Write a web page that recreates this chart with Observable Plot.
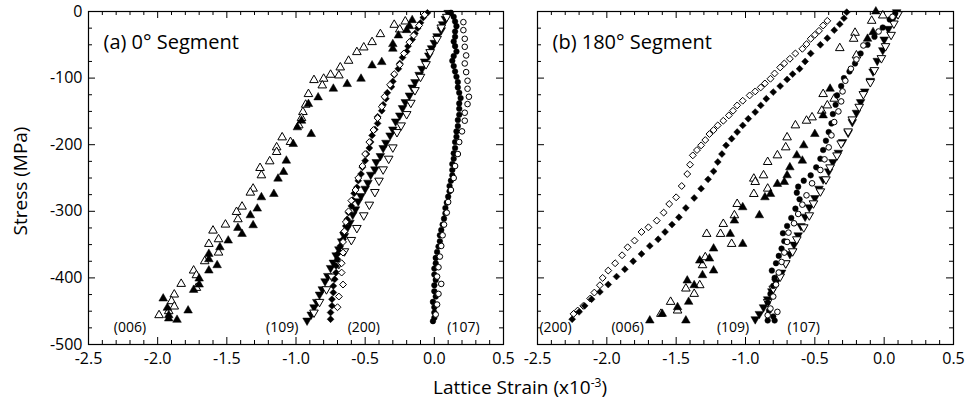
<!DOCTYPE html>
<html><head><meta charset="utf-8">
<script src="https://cdn.jsdelivr.net/npm/d3@7"></script>
<script src="https://cdn.jsdelivr.net/npm/@observablehq/plot@0.6"></script>
<style>
body{margin:0;background:#fff;font-family:"Open Sans",sans-serif;color:#000}
#wrap{position:relative;width:966px;height:402px;overflow:hidden}
#wrap svg{position:absolute;top:0;overflow:visible}
.lab{position:absolute;font-family:"Open Sans",sans-serif;white-space:nowrap;text-align:center}
</style>
</head><body><div id="wrap"></div>
<script>
// ---- tick values ----
const xMajorTicks = [-2.5, -2.0, -1.5, -1.0, -0.5, 0.0, 0.5];
const xMinorTicks = [-2.4,-2.3,-2.2,-2.1,-1.9,-1.8,-1.7,-1.6,-1.4,-1.3,-1.2,-1.1,-0.9,-0.8,-0.7,-0.6,-0.4,-0.3,-0.2,-0.1,0.1,0.2,0.3,0.4];
const yMajorTicks = [0, -100, -200, -300, -400, -500];
const yMinorTicks = [-25,-50,-75,-125,-150,-175,-225,-250,-275,-325,-350,-375,-425,-450,-475];

// ---- series labels ----
const labelsA = [["(006)", -2.20, -474], ["(109)", -1.10, -474], ["(200)", -0.51, -474], ["(107)", 0.21, -474]];
const labelsB = [["(200)", -2.37, -474], ["(006)", -1.85, -474], ["(109)", -1.09, -474], ["(107)", -0.58, -474]];

// ---- (a) 0° segment: [strain x1e-3, stress MPa] ----
const a006Open = [[-0.21,-15],[-0.29,-20],[-0.25,-27],[-0.39,-34],[-0.45,-46],[-0.51,-54],[-0.56,-61],[-0.62,-74],[-0.68,-84],[-0.69,-96],[-0.75,-95],[-0.80,-101],[-0.81,-111],[-0.87,-103],[-0.91,-124],[-0.93,-140],[-0.95,-151],[-0.98,-171],[-0.96,-160],[-1.04,-196],[-1.10,-189],[-1.14,-204],[-1.14,-211],[-1.19,-225],[-1.25,-246],[-1.26,-235],[-1.31,-266],[-1.33,-272],[-1.39,-293],[-1.43,-301],[-1.42,-312],[-1.51,-320],[-1.56,-342],[-1.60,-329],[-1.63,-349],[-1.56,-362],[-1.66,-375],[-1.74,-389],[-1.72,-396],[-1.83,-409],[-1.72,-415],[-1.88,-425],[-1.90,-435],[-1.88,-443],[-1.92,-450],[-1.99,-456]];
const a006Filled = [[-0.16,-13],[-0.18,-22],[-0.20,-28],[-0.26,-36],[-0.30,-49],[-0.30,-56],[-0.38,-76],[-0.45,-81],[-0.53,-101],[-0.63,-109],[-0.73,-116],[-0.84,-129],[-0.91,-139],[-0.96,-164],[-0.99,-174],[-0.89,-184],[-1.02,-199],[-1.07,-224],[-1.09,-241],[-1.13,-251],[-1.16,-274],[-1.25,-279],[-1.28,-296],[-1.33,-306],[-1.31,-321],[-1.39,-334],[-1.42,-325],[-1.49,-344],[-1.55,-354],[-1.57,-381],[-1.63,-364],[-1.63,-372],[-1.63,-389],[-1.70,-401],[-1.74,-418],[-1.70,-410],[-1.78,-449],[-1.86,-463],[-1.92,-456],[-1.96,-431],[-1.92,-461],[-1.93,-445]];
const a109Filled = [[0.10,-2],[0.08,-11],[0.06,-19],[0.05,-28],[0.02,-37],[0.00,-47],[-0.02,-55],[-0.04,-66],[-0.07,-75],[-0.09,-86],[-0.11,-95],[-0.14,-106],[-0.16,-114],[-0.18,-126],[-0.21,-136],[-0.23,-145],[-0.25,-156],[-0.28,-165],[-0.30,-177],[-0.32,-186],[-0.35,-197],[-0.37,-205],[-0.39,-217],[-0.42,-226],[-0.43,-237],[-0.46,-245],[-0.48,-257],[-0.50,-266],[-0.53,-277],[-0.55,-285],[-0.57,-297],[-0.59,-305],[-0.61,-317],[-0.63,-325],[-0.65,-337],[-0.67,-345],[-0.69,-357],[-0.71,-366],[-0.73,-377],[-0.75,-385],[-0.77,-397],[-0.79,-405],[-0.81,-417],[-0.83,-425],[-0.85,-436],[-0.87,-444],[-0.89,-455],[-0.92,-464]];
const a109Open = [[0.09,-8],[0.05,-24],[0.02,-41],[-0.03,-61],[-0.06,-79],[-0.10,-98],[-0.14,-118],[-0.17,-137],[-0.20,-154],[-0.24,-171],[-0.27,-181],[-0.30,-204],[-0.33,-221],[-0.37,-237],[-0.40,-254],[-0.43,-271],[-0.47,-290],[-0.51,-306],[-0.56,-325],[-0.60,-343],[-0.65,-360],[-0.69,-379],[-0.74,-398],[-0.78,-417],[-0.83,-436],[-0.87,-452]];
const a200Filled = [[-0.05,-2],[-0.08,-9],[-0.10,-17],[-0.12,-25],[-0.14,-33],[-0.16,-42],[-0.19,-52],[-0.20,-60],[-0.23,-69],[-0.25,-78],[-0.26,-86],[-0.29,-95],[-0.30,-105],[-0.31,-113],[-0.34,-122],[-0.35,-131],[-0.37,-140],[-0.38,-149],[-0.41,-158],[-0.41,-168],[-0.43,-177],[-0.45,-186],[-0.46,-196],[-0.47,-205],[-0.49,-214],[-0.50,-224],[-0.52,-234],[-0.53,-244],[-0.55,-254],[-0.56,-264],[-0.58,-273],[-0.59,-283],[-0.60,-292],[-0.62,-302],[-0.63,-312],[-0.64,-322],[-0.66,-332],[-0.66,-342],[-0.68,-352],[-0.69,-362],[-0.70,-372],[-0.71,-382],[-0.71,-392],[-0.72,-402],[-0.73,-412],[-0.73,-422],[-0.74,-432],[-0.74,-442],[-0.75,-452],[-0.75,-462]];
const a200Open = [[-0.07,-5],[-0.11,-21],[-0.15,-36],[-0.18,-46],[-0.22,-63],[-0.25,-80],[-0.29,-94],[-0.32,-110],[-0.36,-128],[-0.38,-143],[-0.41,-160],[-0.44,-178],[-0.47,-196],[-0.50,-214],[-0.52,-232],[-0.55,-250],[-0.57,-268],[-0.60,-284],[-0.62,-300],[-0.64,-316],[-0.65,-330],[-0.66,-346],[-0.66,-362],[-0.67,-378],[-0.67,-392],[-0.66,-410],[-0.69,-428],[-0.70,-444]];
const a107Filled = [[0.12,-2],[0.14,-8],[0.15,-15],[0.16,-22],[0.15,-30],[0.15,-38],[0.14,-45],[0.15,-52],[0.16,-60],[0.14,-67],[0.13,-74],[0.14,-82],[0.15,-90],[0.16,-98],[0.17,-106],[0.17,-114],[0.18,-122],[0.19,-130],[0.18,-138],[0.18,-146],[0.18,-155],[0.17,-163],[0.17,-172],[0.16,-180],[0.16,-188],[0.15,-196],[0.15,-205],[0.14,-213],[0.14,-221],[0.13,-229],[0.13,-238],[0.13,-246],[0.12,-254],[0.11,-262],[0.11,-270],[0.10,-278],[0.09,-287],[0.08,-295],[0.08,-303],[0.07,-311],[0.06,-320],[0.05,-328],[0.04,-336],[0.04,-345],[0.03,-353],[0.02,-361],[0.01,-370],[0.01,-378],[0.00,-386],[0.00,-395],[0.01,-403],[0.00,-411],[0.00,-420],[0.01,-428],[-0.01,-436],[0.00,-444],[0.00,-452],[0.00,-460],[-0.01,-465]];
const a107Open = [[0.21,-16],[0.21,-28],[0.22,-41],[0.22,-53],[0.23,-66],[0.22,-78],[0.23,-91],[0.24,-104],[0.24,-116],[0.25,-128],[0.24,-139],[0.22,-152],[0.22,-164],[0.20,-180],[0.18,-196],[0.17,-214],[0.15,-232],[0.14,-250],[0.12,-268],[0.10,-286],[0.09,-302],[0.07,-320],[0.06,-336],[0.05,-352],[0.04,-368],[0.03,-384],[0.02,-398],[0.05,-409],[0.03,-424],[0.02,-440],[0.01,-455]];

// ---- (b) 180° segment ----
const b200Open = [[-0.41,-14],[-0.44,-21],[-0.47,-29],[-0.50,-35],[-0.53,-41],[-0.56,-49],[-0.59,-56],[-0.64,-63],[-0.68,-71],[-0.72,-78],[-0.75,-84],[-0.79,-93],[-0.82,-101],[-0.86,-108],[-0.89,-114],[-0.93,-120],[-0.97,-126],[-1.02,-134],[-1.06,-141],[-1.09,-149],[-1.12,-156],[-1.16,-164],[-1.20,-171],[-1.23,-178],[-1.26,-184],[-1.29,-193],[-1.32,-201],[-1.35,-208],[-1.38,-216],[-1.40,-230],[-1.42,-244],[-1.46,-262],[-1.50,-279],[-1.55,-289],[-1.59,-302],[-1.64,-314],[-1.70,-324],[-1.75,-331],[-1.80,-344],[-1.85,-354],[-1.89,-366],[-1.94,-378],[-1.99,-389],[-2.03,-400],[-2.05,-411],[-2.09,-422],[-2.12,-431],[-2.17,-442],[-2.21,-449],[-2.24,-454]];
const b200Filled = [[-0.27,-1],[-0.29,-10],[-0.32,-19],[-0.36,-28],[-0.41,-40],[-0.46,-50],[-0.53,-63],[-0.57,-75],[-0.61,-86],[-0.66,-94],[-0.70,-102],[-0.75,-112],[-0.80,-121],[-0.85,-131],[-0.89,-141],[-0.93,-151],[-0.98,-161],[-1.02,-171],[-1.06,-181],[-1.10,-191],[-1.14,-201],[-1.17,-214],[-1.20,-226],[-1.23,-240],[-1.27,-252],[-1.32,-266],[-1.37,-280],[-1.43,-295],[-1.48,-309],[-1.53,-320],[-1.58,-331],[-1.63,-342],[-1.69,-352],[-1.75,-364],[-1.81,-375],[-1.87,-387],[-1.93,-398],[-1.99,-410],[-2.05,-421],[-2.11,-432],[-2.16,-442],[-2.20,-451],[-2.25,-462]];
const b006Open = [[-0.01,-6],[-0.09,-14],[-0.21,-32],[-0.22,-41],[-0.32,-55],[-0.20,-66],[-0.44,-124],[-0.36,-131],[-0.41,-141],[-0.45,-149],[-0.52,-159],[-0.56,-164],[-0.64,-171],[-0.70,-189],[-0.71,-204],[-0.77,-216],[-0.84,-226],[-0.87,-246],[-0.94,-251],[-0.93,-256],[-0.84,-266],[-0.94,-274],[-1.06,-289],[-1.08,-306],[-1.16,-319],[-1.28,-334],[-1.18,-334],[-1.10,-349],[-1.29,-369],[-1.31,-381],[-1.33,-411],[-1.43,-416],[-1.37,-424],[-1.54,-436],[-1.49,-449],[-1.61,-454]];
const b006Filled = [[-0.06,0],[-0.08,-31],[-0.12,-41],[-0.39,-116],[-0.44,-156],[-0.50,-184],[-0.58,-201],[-0.59,-224],[-0.63,-216],[-0.68,-234],[-0.70,-246],[-0.72,-256],[-0.77,-259],[-0.82,-274],[-0.86,-279],[-0.90,-306],[-1.02,-294],[-1.08,-314],[-1.11,-334],[-1.02,-349],[-1.23,-356],[-1.26,-371],[-1.33,-374],[-1.23,-389],[-1.31,-396],[-1.42,-404],[-1.37,-411],[-1.41,-436],[-1.49,-444],[-1.43,-464],[-1.60,-454],[-1.69,-464]];
const b109Filled = [[0.09,-1],[0.06,-12],[0.03,-26],[0.00,-42],[-0.01,-58],[-0.05,-74],[-0.08,-90],[-0.10,-104],[-0.14,-120],[-0.17,-136],[-0.20,-152],[-0.23,-166],[-0.26,-182],[-0.30,-196],[-0.33,-212],[-0.37,-226],[-0.40,-240],[-0.44,-252],[-0.47,-266],[-0.50,-280],[-0.54,-294],[-0.57,-308],[-0.60,-322],[-0.62,-336],[-0.65,-350],[-0.68,-364],[-0.71,-378],[-0.74,-392],[-0.78,-406],[-0.81,-420],[-0.84,-432],[-0.87,-444],[-0.90,-454],[-0.93,-462]];
const b109Open = [[0.10,-4],[0.07,-18],[0.05,-35],[0.01,-52],[-0.02,-70],[-0.07,-88],[-0.10,-106],[-0.15,-124],[-0.18,-143],[-0.23,-162],[-0.26,-180],[-0.31,-198],[-0.34,-216],[-0.39,-234],[-0.42,-252],[-0.46,-270],[-0.51,-288],[-0.54,-306],[-0.58,-324],[-0.63,-342],[-0.66,-360],[-0.71,-378],[-0.75,-398],[-0.80,-416],[-0.84,-436]];
const b107Filled = [[0.08,-3],[0.04,-12],[-0.01,-24],[-0.07,-38],[-0.12,-50],[-0.17,-63],[-0.21,-78],[-0.25,-90],[-0.29,-100],[-0.31,-112],[-0.34,-126],[-0.35,-140],[-0.37,-154],[-0.38,-168],[-0.40,-181],[-0.42,-194],[-0.44,-208],[-0.46,-221],[-0.49,-234],[-0.53,-246],[-0.58,-254],[-0.62,-263],[-0.63,-272],[-0.61,-282],[-0.64,-296],[-0.67,-310],[-0.70,-322],[-0.73,-333],[-0.72,-345],[-0.74,-356],[-0.76,-367],[-0.78,-378],[-0.81,-389],[-0.79,-400],[-0.80,-412],[-0.82,-424],[-0.84,-437],[-0.83,-449],[-0.80,-458],[-0.84,-464],[-0.79,-464]];
const b107Open = [[0.06,-8],[-0.04,-30],[-0.15,-51],[-0.20,-72],[-0.24,-86],[-0.28,-104],[-0.30,-120],[-0.31,-135],[-0.33,-150],[-0.36,-166],[-0.38,-186],[-0.40,-204],[-0.43,-222],[-0.46,-238],[-0.52,-258],[-0.56,-276],[-0.59,-290],[-0.62,-304],[-0.65,-318],[-0.69,-332],[-0.70,-346],[-0.72,-362],[-0.74,-376],[-0.76,-392],[-0.78,-410],[-0.80,-428],[-0.82,-446],[-0.77,-451],[-0.84,-456]];

// ---- rendering ----
const FONT = "'Open Sans', sans-serif";
const sqrt3 = Math.sqrt(3);
const triDown = {draw(ctx, size) {
  const y = -Math.sqrt(size / (sqrt3 * 3));
  ctx.moveTo(0, -y * 2);
  ctx.lineTo(-sqrt3 * y, y);
  ctx.lineTo(sqrt3 * y, y);
  ctx.closePath();
}};
const pts = arr => arr.map(([x, y]) => ({x, y}));
function filled(arr, symbol, r) {
  return Plot.dot(pts(arr), {x: "x", y: "y", symbol, r, fill: "black", stroke: "black", strokeWidth: 0.5});
}
function open(arr, symbol, r) {
  return Plot.dot(pts(arr), {x: "x", y: "y", symbol, r, fill: "white", stroke: "black", strokeWidth: 1});
}
const H = 372, MT = 11, MB = 28, IH = H - MT - MB;
const RT = 3.2, RD = 3.1, RC = 2.8;

function panel({width, marginLeft, marginRight, series, labels, title, yLabels}) {
  const IW = width - marginLeft - marginRight;
  const tk = (vals, opt) => Plot.ruleX(vals, {x: d => d, stroke: "black", strokeWidth: 1, ...opt});
  const tky = (vals, opt) => Plot.ruleY(vals, {y: d => d, stroke: "black", strokeWidth: 1, ...opt});
  const marks = [
    // inward ticks on all four sides
    tk(xMajorTicks, {insetTop: IH - 7}), tk(xMinorTicks, {insetTop: IH - 4}),
    tk(xMajorTicks, {insetBottom: IH - 7}), tk(xMinorTicks, {insetBottom: IH - 4}),
    tky(yMajorTicks, {insetRight: IW - 7}), tky(yMinorTicks, {insetRight: IW - 4}),
    tky(yMajorTicks, {insetLeft: IW - 7}), tky(yMinorTicks, {insetLeft: IW - 4}),
    Plot.axisX(xMajorTicks, {tickSize: 0, tickPadding: 8, tickFormat: d => d.toFixed(1), fontSize: 16, label: null}),
    ...series,
    Plot.text(labels.map(([t, x, y]) => ({t, x, y})), {x: "x", y: "y", text: "t", fontSize: 14, fill: "black", lineAnchor: "middle"}),
    Plot.text([title], {frameAnchor: "top-left", dx: 15, dy: 31, lineAnchor: "middle", textAnchor: "start", fontSize: 20, fill: "black"}),
    Plot.frame({stroke: "black", strokeWidth: 1.2})
  ];
  if (yLabels) marks.push(Plot.axisY(yMajorTicks, {tickSize: 0, tickPadding: 6, tickFormat: d => String(d), fontSize: 16, label: null}));
  return Plot.plot({
    width, height: H, marginLeft, marginRight, marginTop: MT, marginBottom: MB,
    x: {domain: [-2.5, 0.5], axis: null},
    y: {domain: [-500, 0], axis: null},
    style: {fontFamily: FONT, fontSize: "16px", color: "black", background: "transparent", overflow: "visible"},
    marks
  });
}

const wrap = document.getElementById("wrap");
const pa = panel({
  width: 520, marginLeft: 88, marginRight: 17, yLabels: true,
  title: "(a) 0° Segment", labels: labelsA,
  series: [
    open(a006Open, "triangle", RT), filled(a006Filled, "triangle", RT),
    filled(a109Filled, triDown, RT), open(a109Open, triDown, RT),
    filled(a200Filled, "diamond2", RD), open(a200Open, "diamond2", RD),
    filled(a107Filled, "circle", RC), open(a107Open, "circle", RC)
  ]
});
pa.style.left = "0px";
wrap.appendChild(pa);

const pb = panel({
  width: 439, marginLeft: 10, marginRight: 13, yLabels: false,
  title: "(b) 180° Segment", labels: labelsB,
  series: [
    open(b200Open, "diamond2", RD), filled(b200Filled, "diamond2", RD),
    open(b006Open, "triangle", RT), filled(b006Filled, "triangle", RT),
    filled(b109Filled, triDown, RT), open(b109Open, triDown, RT),
    filled(b107Filled, "circle", RC), open(b107Open, "circle", RC)
  ]
});
pb.style.left = "527px";
wrap.appendChild(pb);

const yl = document.createElement("div");
yl.className = "lab";
yl.style.cssText = "left:-80px;top:168px;width:200px;font-size:19px;line-height:26px;transform:rotate(-90deg);";
yl.textContent = "Stress (MPa)";
wrap.appendChild(yl);

const xl = document.createElement("div");
xl.className = "lab";
xl.style.cssText = "left:400px;top:374px;width:240px;font-size:19px;line-height:26px;";
xl.innerHTML = 'Lattice Strain (x10<sup style="font-size:12px;line-height:0;vertical-align:7px">-3</sup>)';
wrap.appendChild(xl);
</script>
</body></html>
